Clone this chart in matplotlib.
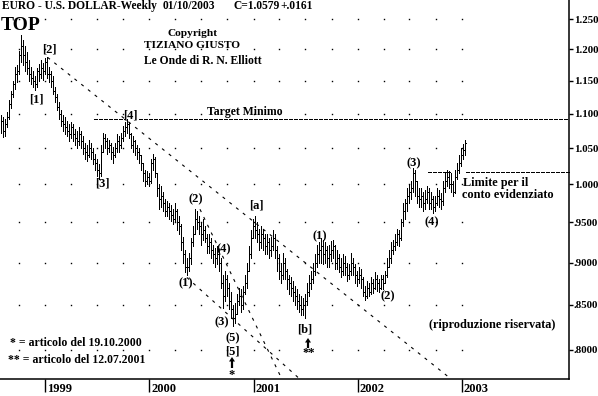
import numpy as np
import pandas as pd
import matplotlib
matplotlib.use('Agg')
import matplotlib.pyplot as plt
import matplotlib.dates as mdates
from matplotlib.transforms import IdentityTransform

plt.rcParams['font.family'] = ['Liberation Serif', 'DejaVu Serif']
plt.rcParams['font.weight'] = 'bold'
plt.rcParams['lines.scale_dashes'] = False

W, H = 598, 396

# weekly EUR/USD bars (Friday), 31 Jul 1998 .. 10 Jan 2003
weeks = pd.date_range('1998-07-31', '2003-01-10', freq='W-FRI')
highs = [
 1.098, 1.095, 1.092, 1.102, 1.120, 1.135, 1.150, 1.172, 1.175, 1.198,
 1.223, 1.215, 1.206, 1.195, 1.182, 1.172, 1.165, 1.158, 1.170, 1.176,
 1.182, 1.178, 1.186, 1.188, 1.172, 1.165, 1.158, 1.140, 1.130, 1.118,
 1.105, 1.098, 1.095, 1.090, 1.085, 1.088, 1.085, 1.078, 1.075, 1.080,
 1.075, 1.068, 1.058, 1.055, 1.062, 1.058, 1.050, 1.042, 1.035, 1.028,
 1.055, 1.072, 1.070, 1.065, 1.062, 1.058, 1.052, 1.058, 1.070, 1.068,
 1.072, 1.082, 1.088, 1.092, 1.088, 1.072, 1.068, 1.062, 1.055, 1.050,
 1.040, 1.030, 1.020, 1.018, 1.015, 1.035, 1.042, 1.038, 1.015, 1.000,
 0.998, 0.990, 0.980, 0.978, 0.975, 0.972, 0.968, 0.975, 0.968, 0.958,
 0.948, 0.932, 0.915, 0.905, 0.912, 0.930, 0.945, 0.968, 0.965, 0.958,
 0.950, 0.955, 0.945, 0.935, 0.935, 0.930, 0.922, 0.918, 0.920, 0.915,
 0.905, 0.885, 0.890, 0.885, 0.875, 0.865, 0.850, 0.852, 0.862, 0.870,
 0.868, 0.872, 0.885, 0.900, 0.920, 0.940, 0.955, 0.958, 0.950, 0.942,
 0.945, 0.942, 0.935, 0.935, 0.930, 0.932, 0.940, 0.935, 0.920, 0.910,
 0.900, 0.912, 0.905, 0.892, 0.885, 0.882, 0.878, 0.872, 0.868, 0.862,
 0.860, 0.858, 0.862, 0.875, 0.885, 0.890, 0.900, 0.910, 0.922, 0.925,
 0.930, 0.928, 0.925, 0.920, 0.922, 0.926, 0.928, 0.922, 0.915, 0.910,
 0.905, 0.910, 0.908, 0.900, 0.898, 0.912, 0.905, 0.898, 0.890, 0.895,
 0.892, 0.882, 0.872, 0.878, 0.875, 0.882, 0.880, 0.888, 0.885, 0.880,
 0.885, 0.885, 0.890, 0.905, 0.915, 0.925, 0.928, 0.935, 0.942, 0.940,
 0.955, 0.975, 0.980, 0.995, 1.000, 1.005, 1.022, 1.020, 1.005, 0.995,
 0.995, 0.990, 0.992, 0.998, 0.995, 0.990, 0.985, 0.985, 0.995, 0.992,
 0.988, 1.005, 1.015, 1.020, 1.018, 1.015, 1.005, 1.020, 1.030, 1.040,
 1.050, 1.056, 1.062]
lows = [
 1.072, 1.066, 1.068, 1.080, 1.092, 1.108, 1.125, 1.138, 1.148, 1.160,
 1.180, 1.175, 1.166, 1.160, 1.150, 1.145, 1.140, 1.136, 1.140, 1.150,
 1.155, 1.152, 1.160, 1.155, 1.148, 1.140, 1.130, 1.118, 1.105, 1.092,
 1.082, 1.075, 1.070, 1.068, 1.060, 1.065, 1.060, 1.055, 1.050, 1.055,
 1.050, 1.042, 1.035, 1.032, 1.038, 1.035, 1.028, 1.020, 1.012, 1.008,
 1.012, 1.045, 1.050, 1.042, 1.045, 1.035, 1.030, 1.038, 1.045, 1.045,
 1.050, 1.060, 1.068, 1.072, 1.065, 1.050, 1.045, 1.040, 1.035, 1.030,
 1.020, 1.005, 0.998, 1.000, 0.998, 1.002, 1.020, 1.010, 0.985, 0.968,
 0.970, 0.965, 0.958, 0.958, 0.955, 0.952, 0.948, 0.952, 0.940, 0.935,
 0.915, 0.900, 0.888, 0.885, 0.890, 0.898, 0.920, 0.935, 0.942, 0.935,
 0.922, 0.928, 0.925, 0.912, 0.912, 0.905, 0.900, 0.895, 0.898, 0.890,
 0.870, 0.846, 0.855, 0.860, 0.845, 0.835, 0.826, 0.830, 0.840, 0.850,
 0.842, 0.845, 0.862, 0.870, 0.890, 0.905, 0.930, 0.930, 0.925, 0.915,
 0.918, 0.915, 0.910, 0.910, 0.905, 0.908, 0.915, 0.905, 0.890, 0.880,
 0.875, 0.880, 0.880, 0.868, 0.862, 0.860, 0.855, 0.850, 0.845, 0.842,
 0.838, 0.838, 0.835, 0.850, 0.860, 0.868, 0.875, 0.885, 0.895, 0.900,
 0.900, 0.898, 0.900, 0.895, 0.895, 0.902, 0.905, 0.892, 0.892, 0.888,
 0.882, 0.885, 0.885, 0.878, 0.880, 0.885, 0.885, 0.875, 0.872, 0.875,
 0.870, 0.860, 0.856, 0.858, 0.860, 0.862, 0.864, 0.868, 0.866, 0.865,
 0.868, 0.868, 0.875, 0.882, 0.895, 0.900, 0.910, 0.915, 0.922, 0.920,
 0.928, 0.945, 0.955, 0.965, 0.975, 0.980, 0.990, 0.985, 0.975, 0.970,
 0.970, 0.965, 0.968, 0.975, 0.968, 0.968, 0.962, 0.965, 0.972, 0.970,
 0.968, 0.972, 0.990, 0.998, 0.995, 0.990, 0.985, 0.988, 1.008, 1.015,
 1.025, 1.035, 1.040]
closes = [
 1.090, 1.075, 1.085, 1.095, 1.115, 1.130, 1.145, 1.160, 1.165, 1.190,
 1.205, 1.190, 1.180, 1.170, 1.160, 1.155, 1.150, 1.145, 1.165, 1.160,
 1.170, 1.165, 1.180, 1.160, 1.160, 1.150, 1.135, 1.125, 1.110, 1.100,
 1.090, 1.085, 1.080, 1.075, 1.070, 1.080, 1.070, 1.065, 1.060, 1.070,
 1.060, 1.050, 1.045, 1.040, 1.050, 1.045, 1.035, 1.030, 1.020, 1.015,
 1.045, 1.065, 1.060, 1.050, 1.055, 1.045, 1.040, 1.050, 1.060, 1.055,
 1.065, 1.075, 1.080, 1.085, 1.070, 1.055, 1.060, 1.050, 1.045, 1.040,
 1.030, 1.015, 1.005, 1.010, 1.005, 1.030, 1.035, 1.015, 0.995, 0.980,
 0.985, 0.975, 0.965, 0.970, 0.965, 0.960, 0.955, 0.965, 0.950, 0.945,
 0.925, 0.910, 0.895, 0.895, 0.905, 0.925, 0.935, 0.955, 0.950, 0.945,
 0.935, 0.940, 0.930, 0.920, 0.925, 0.915, 0.910, 0.905, 0.910, 0.900,
 0.875, 0.860, 0.880, 0.870, 0.855, 0.845, 0.835, 0.840, 0.855, 0.860,
 0.850, 0.865, 0.875, 0.890, 0.910, 0.930, 0.945, 0.940, 0.935, 0.925,
 0.935, 0.930, 0.920, 0.925, 0.915, 0.920, 0.930, 0.915, 0.905, 0.890,
 0.885, 0.900, 0.890, 0.880, 0.875, 0.870, 0.865, 0.860, 0.855, 0.850,
 0.845, 0.850, 0.855, 0.865, 0.875, 0.880, 0.890, 0.900, 0.910, 0.915,
 0.920, 0.910, 0.915, 0.905, 0.910, 0.915, 0.920, 0.900, 0.905, 0.895,
 0.890, 0.900, 0.895, 0.885, 0.890, 0.900, 0.895, 0.885, 0.880, 0.885,
 0.880, 0.865, 0.860, 0.870, 0.865, 0.875, 0.870, 0.880, 0.875, 0.870,
 0.880, 0.875, 0.885, 0.895, 0.905, 0.915, 0.920, 0.925, 0.935, 0.930,
 0.950, 0.965, 0.975, 0.985, 0.990, 0.995, 1.015, 1.005, 0.985, 0.980,
 0.985, 0.975, 0.980, 0.990, 0.975, 0.980, 0.970, 0.975, 0.985, 0.980,
 0.978, 0.995, 1.005, 1.010, 1.000, 1.000, 0.990, 1.010, 1.020, 1.030,
 1.040, 1.048, 1.058]

price_ticks = [1.25, 1.20, 1.15, 1.10, 1.05, 1.00, 0.95, 0.90, 0.85, 0.80]
price_labels = ['1.250', '1.200', '1.150', '1.100', '1.050', '1.000',
                '.9500', '.9000', '.8500', '.8000']
years = ['1999', '2000', '2001', '2002', '2003']

# trend lines drawn on the chart: (date, price) -> (date, price)
trend_lines = [
    (('1999-01-10', 1.187), ('2002-11-20', 0.770)),
    (('2000-06-27', 0.967), ('2001-04-10', 0.769)),
    (('2000-05-12', 0.882), ('2001-06-12', 0.769)),
]
target_level = 1.092
target_spans = [('1999-06-21', '1999-10-08'), ('1999-11-26', '2004-01-12')]
limit_level = 1.017
limit_spans = [('2002-09-03', '2002-11-20'), ('2003-01-14', '2004-01-12')]

assert len(weeks) == len(highs) == len(lows) == len(closes)

fig = plt.figure(figsize=(W / 100, H / 100), dpi=100)
ax = fig.add_axes([0, 1 - 379 / H, 569 / W, 379 / H])
ax.set_yscale('log')
ax.set_ylim(0.7691, 1.2825)
ax.set_xlim(mdates.date2num(pd.Timestamp('1998-07-27 08:00')),
            mdates.date2num(pd.Timestamp('2004-01-10 22:00')))

# dotted grid (quarterly x price levels)
quarters = pd.date_range('1998-10-01', '2003-01-01', freq='QS')
gx, gy = np.meshgrid(mdates.date2num(quarters), price_ticks)
ax.plot(gx.ravel(), gy.ravel(), 's', color='black', markersize=1.0, mew=0,
        antialiased=False, zorder=1)

# bars
d = mdates.date2num(weeks)
ax.vlines(d, lows, highs, color='black', lw=0.72, antialiased=False, zorder=3)
ax.hlines(closes, d, d + 3.5, color='black', lw=0.72, antialiased=False, zorder=3)

# trend lines
for (d0, p0), (d1, p1) in trend_lines:
    ln, = ax.plot([pd.Timestamp(d0), pd.Timestamp(d1)], [p0, p1],
                  color='black', lw=0.8, zorder=2)
    ln.set_dashes((2.2, 4.0))

for lvl, spans in [(target_level, target_spans), (limit_level, limit_spans)]:
    for a, b in spans:
        ln, = ax.plot([pd.Timestamp(a), pd.Timestamp(b)], [lvl, lvl],
                      color='black', lw=0.8, zorder=2, clip_on=False,
                      antialiased=False)
        ln.set_dashes((2.2, 0.8))

# axes look
for s in ['left', 'top']:
    ax.spines[s].set_visible(False)
for s in ['bottom', 'right']:
    ax.spines[s].set_linewidth(1.1)
ax.yaxis.tick_right()
ax.set_yticks(price_ticks)
ax.set_yticklabels(price_labels)
ax.yaxis.set_minor_locator(matplotlib.ticker.NullLocator())
ax.tick_params(axis='y', direction='out', length=3, width=1, pad=0.5, labelsize=7.8)
year_dates = [pd.Timestamp(y + '-01-01') for y in years]
ax.set_xticks(mdates.date2num(year_dates))
ax.set_xticklabels([])
ax.tick_params(axis='x', direction='out', length=9, width=1)
for y, dt in zip(years, year_dates):
    ax.annotate(y, xy=(mdates.date2num(dt), 0), xycoords=('data', 'axes fraction'),
                xytext=(2, -10), textcoords='offset pixels', ha='left', va='center',
                fontsize=9, fontweight='bold')


def txt(x, y, s, size=8.8, ha='center', **kw):
    fig.text(x / W, 1 - y / H, s, ha=ha, va='center', fontsize=size,
             fontweight='bold', **kw)


txt(2, 6, 'EURO - U.S. DOLLAR-Weekly', 8.3, ha='left')
txt(163, 6, '01/10/2003', 8.3, ha='left')
txt(233, 6, 'C=1.0579', 8.3, ha='left')
txt(280, 6, '+.0161', 8.3, ha='left')
txt(21, 25, 'TOP', 14)
txt(193, 33, 'Copyright', 8.2)
txt(192, 46, 'TIZIANO GIUSTO', 8.2)
txt(203, 61, 'Le Onde di R. N. Elliott', 8.4)
txt(207, 112, 'Target Minimo', 8.5, ha='left')
txt(463, 183, 'Limite per il', ha='left')
txt(462, 195, 'conto evidenziato', ha='left')
txt(492, 325, '(riproduzione riservata)')
txt(10, 343, '* = articolo del 19.10.2000', 8.5, ha='left')
txt(8, 360, '** = articolo del 12.07.2001', 8.5, ha='left')

wave_labels = [
    (49, 50, '[2]'), (36, 99, '[1]'), (130, 115, '[4]'), (102, 183, '[3]'),
    (196, 199, '(2)'), (256, 206, '[a]'), (224, 249, '(4)'), (186, 283, '(1)'),
    (222, 322, '(3)'), (233, 338, '(5)'), (232, 351, '[5]'), (232, 375, '*'),
    (320, 236, '(1)'), (414, 163, '(3)'), (432, 222, '(4)'), (388, 296, '(2)'),
    (305, 330, '[b]'), (309, 353, '**'),
]
for x, y, s in wave_labels:
    txt(x, y, s, 9)

for x, y0, y1 in [(232, 368, 357), (308, 348, 338)]:
    fig.add_artist(matplotlib.patches.FancyArrow(
        x, H - y0, 0, y0 - y1, width=2.2, head_width=6, head_length=4.5,
        length_includes_head=True, transform=IdentityTransform(),
        lw=0, color='black'))

fig.savefig('out.png', dpi=100)
